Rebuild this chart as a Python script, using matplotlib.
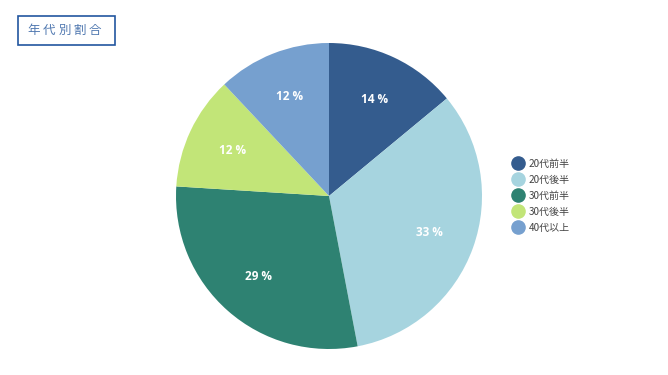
import matplotlib.pyplot as plt
from matplotlib.lines import Line2D
from matplotlib.patches import Rectangle

plt.rcParams['font.family'] = ['Noto Sans CJK JP', 'DejaVu Sans']

title = "年代別割合"
labels = ["20代前半", "20代後半", "30代前半", "30代後半", "40代以上"]
shares = [14, 33, 29, 12, 12]
slice_colors = ["#345c8e", "#a6d4df", "#2e8272", "#c2e578", "#76a0cf"]

fig = plt.figure(figsize=(6.68, 3.75), dpi=100)
ax = fig.add_axes([0, 0, 1, 1])

wedges, _, autotexts = ax.pie(
    shares, colors=slice_colors, startangle=90, counterclock=False,
    center=(329, 179), radius=153, autopct=lambda p: f"{p:.0f} %",
    pctdistance=0.7, wedgeprops=dict(linewidth=0))
for t in autotexts:
    t.set_color("white")
    t.set_fontsize(8.5)
    t.set_fontweight("bold")
    t.set_family(["Open Sans", "DejaVu Sans"])

ax.set_xlim(0, 668)
ax.set_ylim(0, 375)
ax.set_aspect('equal')
ax.axis('off')

# legend
handles = [Line2D([], [], marker='o', linestyle='none', markersize=9.5,
                  markerfacecolor=c, markeredgecolor=c) for c in slice_colors]
leg = ax.legend(handles, labels, loc='center left', bbox_to_anchor=(513 / 668, 1 - 196 / 375),
                frameon=False, fontsize=7.2, labelspacing=0.6, handletextpad=0.6,
                handlelength=1.0, borderpad=0, borderaxespad=0)
for t in leg.get_texts():
    t.set_color("#444444")

# title box
ax.add_patch(Rectangle((17.5, 375 - 45), 97, 29, fill=False, edgecolor="#2356a0", linewidth=1.2))
for i, ch in enumerate(title):
    ax.text(34 + 15.2 * i, 375 - 30.5, ch, ha='center', va='center', fontsize=9,
            color="#5078b0")

fig.savefig("out.png", dpi=100, facecolor="white")
